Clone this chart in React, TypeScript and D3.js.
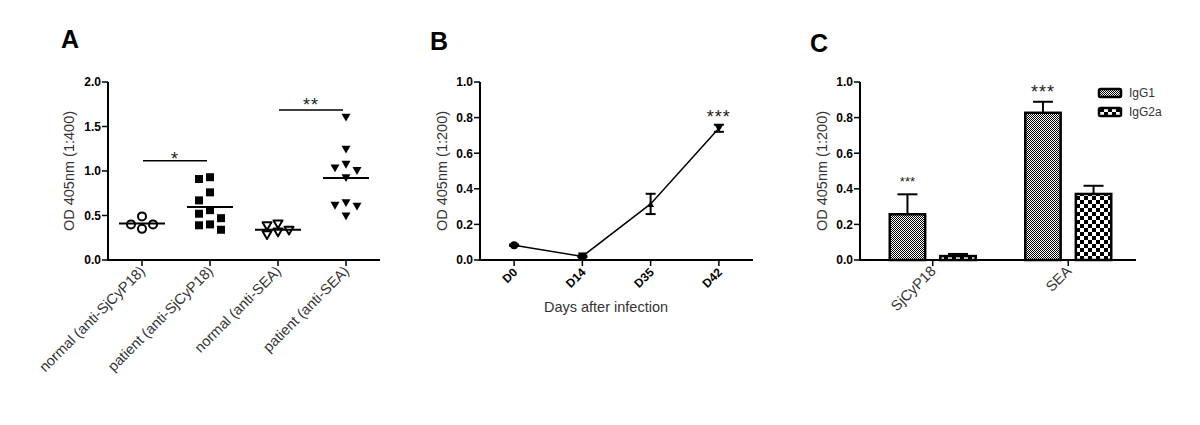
import React from 'react';
import * as d3 from 'd3';

// ---------- Panel A data ----------
const groupsA = ['normal (anti-SjCyP18)', 'patient (anti-SjCyP18)', 'normal (anti-SEA)', 'patient (anti-SEA)'];
const normalSjCyP18 = [0.49, 0.40, 0.40, 0.35];
const patientSjCyP18 = [0.93, 0.91, 0.76, 0.67, 0.56, 0.52, 0.47, 0.40, 0.39, 0.34];
const normalSEA = [0.40, 0.38, 0.33, 0.31, 0.28];
const patientSEA = [1.60, 1.24, 1.07, 1.03, 1.00, 0.92, 0.64, 0.61, 0.60, 0.49];
const sigA = [
  { from: 0, to: 1, value: 1.115, label: '*' },
  { from: 2, to: 3, value: 1.685, label: '**' },
];

// ---------- Panel B data ----------
const days = ['D0', 'D14', 'D35', 'D42'];
const odMean = [0.083, 0.02, 0.315, 0.74];
const odErr = [0.004, 0.004, 0.057, 0.02];

// ---------- Panel C data ----------
const antigens = ['SjCyP18', 'SEA'];
const isotypes = ['IgG1', 'IgG2a'];
const igg1Mean = [0.257, 0.827];
const igg1Err = [0.112, 0.062];
const igg2aMean = [0.022, 0.371];
const igg2aErr = [0.012, 0.046];
const starsC = ['***', '***'];

const FONT = '"Liberation Sans", Arial, Helvetica, sans-serif';
const TOP = 82;
const BOTTOM = 260;

function swarm(values: number[], y: (v: number) => number, step: number, h: number): number[] {
  const order = values.map((_, i) => i).sort((a, b) => values[b] - values[a]);
  const placed: { slot: number; y: number }[] = [];
  const out = new Array(values.length).fill(0);
  for (const i of order) {
    const yy = y(values[i]);
    let best = 0;
    let bestD = -1;
    for (const s of [0, -1, 1]) {
      const ds = placed.filter((p) => p.slot === s).map((p) => Math.abs(p.y - yy));
      const m = ds.length ? Math.min(...ds) : Infinity;
      if (m >= h) { best = s; break; }
      if (m > bestD) { bestD = m; best = s; }
    }
    placed.push({ slot: best, y: yy });
    out[i] = best * step;
  }
  return out;
}

function triDown(x: number, y: number, w: number) {
  const h = w * 0.87;
  return `M${x - w / 2},${y - h / 2}L${x + w / 2},${y - h / 2}L${x},${y + h / 2}Z`;
}
function triUp(x: number, y: number, w: number) {
  const h = w * 0.87;
  return `M${x - w / 2},${y + h / 2}L${x + w / 2},${y + h / 2}L${x},${y - h / 2}Z`;
}

function YAxis({ x, scale, ticks, title, titleX }: { x: number; scale: d3.ScaleLinear<number, number>; ticks: number[]; title: string; titleX: number }) {
  const [r0, r1] = scale.range();
  return (
    <g>
      <line x1={x} x2={x} y1={r0 + 1} y2={r1} stroke="#000" strokeWidth={2} />
      {ticks.map((t) => (
        <g key={t}>
          <line x1={x - 6} x2={x} y1={scale(t)} y2={scale(t)} stroke="#000" strokeWidth={1.5} />
          <text x={x - 7} y={scale(t)} dy="0.36em" textAnchor="end" fontFamily={FONT} fontWeight="bold" fontSize={12} fill="#000">
            {d3.format('.1f')(t)}
          </text>
        </g>
      ))}
      <text transform={`translate(${titleX},${(r0 + r1) / 2}) rotate(-90)`} textAnchor="middle" fontFamily={FONT} fontSize={14.5} fill="#333">
        {title}
      </text>
    </g>
  );
}

function PanelA() {
  const x = d3.scaleBand<string>().domain(groupsA).range([108, 380]);
  const y = d3.scaleLinear().domain([0, 2]).range([BOTTOM, TOP]);
  const cx = (g: string) => (x(g) as number) + x.bandwidth() / 2;
  const series = [normalSjCyP18, patientSjCyP18, normalSEA, patientSEA];
  const kinds = ['circleOpen', 'square', 'triOpen', 'triFilled'];
  return (
    <g>
      <text x={61} y={48} fontFamily={FONT} fontWeight="bold" fontSize={25}>A</text>
      <YAxis x={108} scale={y} ticks={y.ticks(4)} title="OD 405nm (1:400)" titleX={74} />
      <line x1={107} x2={380} y1={BOTTOM} y2={BOTTOM} stroke="#000" strokeWidth={2} />
      {groupsA.map((g) => (
        <g key={g}>
          <line x1={cx(g)} x2={cx(g)} y1={BOTTOM} y2={BOTTOM + 6} stroke="#000" strokeWidth={1.5} />
          <text transform={`translate(${cx(g) + 4},${BOTTOM + 12}) rotate(-45)`} textAnchor="end" fontFamily={FONT} fontSize={14.5} fill="#333">
            {g}
          </text>
        </g>
      ))}
      {series.map((vals, gi) => {
        const g = groupsA[gi];
        const offs = swarm(vals, y, 11, 10);
        const mean = d3.mean(vals) as number;
        return (
          <g key={g}>
            {vals.map((v, i) => {
              const px = cx(g) + offs[i];
              const py = y(v);
              const k = kinds[gi];
              if (k === 'circleOpen') return <circle key={i} cx={px} cy={py} r={4} fill="#fff" stroke="#000" strokeWidth={2} />;
              if (k === 'square') return <rect key={i} x={px - 4} y={py - 4} width={8} height={8} fill="#000" />;
              if (k === 'triOpen') return <path key={i} d={triDown(px, py, 9)} fill="#fff" stroke="#000" strokeWidth={2} strokeLinejoin="round" />;
              return <path key={i} d={triDown(px, py, 9)} fill="#000" />;
            })}
            <line x1={cx(g) - 23} x2={cx(g) + 23} y1={y(mean)} y2={y(mean)} stroke="#000" strokeWidth={2} />
          </g>
        );
      })}
      {sigA.map((s, i) => {
        const x1 = cx(groupsA[s.from]) + 1;
        const x2 = cx(groupsA[s.to]) - 3;
        const yy = y(s.value);
        return (
          <g key={i}>
            <line x1={x1} x2={x2} y1={yy} y2={yy} stroke="#000" strokeWidth={1.5} />
            <text x={(x1 + x2) / 2} y={yy + (s.label.length === 1 ? 4 : 0.5)} textAnchor="middle" fontFamily={FONT} fontSize={18} letterSpacing={1} fill="#222">
              {s.label}
            </text>
          </g>
        );
      })}
    </g>
  );
}

function PanelB() {
  const x = d3.scaleBand<string>().domain(days).range([480, 753]);
  const y = d3.scaleLinear().domain([0, 1]).range([BOTTOM, TOP]);
  const cx = (d: string) => (x(d) as number) + x.bandwidth() / 2;
  const line = d3.line<number>().x((_, i) => cx(days[i])).y((v) => y(v));
  return (
    <g>
      <text x={430} y={50} fontFamily={FONT} fontWeight="bold" fontSize={25}>B</text>
      <YAxis x={480} scale={y} ticks={y.ticks(5)} title="OD 405nm (1:200)" titleX={447} />
      <line x1={479} x2={753} y1={BOTTOM} y2={BOTTOM} stroke="#000" strokeWidth={2} />
      {days.map((d) => (
        <g key={d}>
          <line x1={cx(d)} x2={cx(d)} y1={BOTTOM} y2={BOTTOM + 6} stroke="#000" strokeWidth={1.5} />
          <text transform={`translate(${cx(d) + 4},${BOTTOM + 13}) rotate(-45)`} textAnchor="end" fontFamily={FONT} fontWeight="bold" fontSize={12} fill="#000">
            {d}
          </text>
        </g>
      ))}
      <text x={606} y={312} textAnchor="middle" fontFamily={FONT} fontSize={14.5} fill="#333">Days after infection</text>
      <path d={line(odMean) as string} fill="none" stroke="#000" strokeWidth={1.5} />
      {odMean.map((m, i) => {
        const px = cx(days[i]);
        const top = y(m + odErr[i]);
        const bot = y(m - odErr[i]);
        return (
          <g key={i}>
            <line x1={px} x2={px} y1={top} y2={bot} stroke="#000" strokeWidth={2} />
            <line x1={px - 5} x2={px + 5} y1={top} y2={top} stroke="#000" strokeWidth={2} />
            <line x1={px - 5} x2={px + 5} y1={bot} y2={bot} stroke="#000" strokeWidth={2} />
            {i === 0 && <circle cx={px} cy={y(m)} r={4} fill="#000" />}
            {i === 1 && <rect x={px - 4} y={y(m) - 4} width={8} height={8} fill="#000" />}
            {i === 2 && <path d={triUp(px, y(m), 7)} fill="#000" />}
            {i === 3 && <path d={triDown(px, y(m), 9)} fill="#000" />}
          </g>
        );
      })}
      <text x={cx('D42')} y={123} textAnchor="middle" fontFamily={FONT} fontSize={18} letterSpacing={1} fill="#222">***</text>
    </g>
  );
}

function PanelC() {
  const x0 = d3.scaleBand<string>().domain(antigens).range([865, 1136]);
  const x1 = d3.scaleBand<string>().domain(isotypes).range([-43, 43]).paddingInner(0.3);
  const y = d3.scaleLinear().domain([0, 1]).range([BOTTOM, TOP]);
  const cx = (a: string) => (x0(a) as number) + x0.bandwidth() / 2;
  const means = [igg1Mean, igg2aMean];
  const errs = [igg1Err, igg2aErr];
  const fills = ['url(#patIgG1)', 'url(#patIgG2a)'];
  return (
    <g>
      <defs>
        <pattern id="patIgG1" width={2} height={2} patternUnits="userSpaceOnUse">
          <rect width={2} height={2} fill="#fff" />
          <rect x={0} y={0} width={1} height={1} fill="#000" />
          <rect x={1} y={1} width={1} height={1} fill="#000" />
        </pattern>
        <pattern id="patIgG2a" width={8} height={8} patternUnits="userSpaceOnUse">
          <rect width={8} height={8} fill="#fff" />
          <rect x={0} y={0} width={4} height={4} fill="#000" />
          <rect x={4} y={4} width={4} height={4} fill="#000" />
        </pattern>
      </defs>
      <text x={810} y={52} fontFamily={FONT} fontWeight="bold" fontSize={25}>C</text>
      <YAxis x={860} scale={y} ticks={y.ticks(5)} title="OD 405nm (1:200)" titleX={827} />
      {antigens.map((a, ai) => (
        <g key={a}>
          {isotypes.map((iso, ii) => {
            const bx = cx(a) + (x1(iso) as number);
            const bw = x1.bandwidth();
            const m = means[ii][ai];
            const e = errs[ii][ai];
            const mid = bx + bw / 2;
            return (
              <g key={iso}>
                <line x1={mid} x2={mid} y1={y(m)} y2={y(m + e)} stroke="#000" strokeWidth={2} />
                <line x1={mid - 10} x2={mid + 10} y1={y(m + e)} y2={y(m + e)} stroke="#000" strokeWidth={2} />
                <rect x={bx} y={y(m)} width={bw} height={BOTTOM - y(m)} fill={fills[ii]} stroke="#000" strokeWidth={2.5} />
              </g>
            );
          })}
          <text
            x={cx(a) + (x1('IgG1') as number) + x1.bandwidth() / 2}
            y={ai === 0 ? 186 : 98}
            textAnchor="middle"
            fontFamily={FONT}
            fontSize={ai === 0 ? 13 : 18}
            letterSpacing={ai === 0 ? 0 : 1}
            fill="#222"
          >
            {starsC[ai]}
          </text>
          <line x1={cx(a)} x2={cx(a)} y1={BOTTOM} y2={BOTTOM + 6} stroke="#000" strokeWidth={1.5} />
          <text transform={`translate(${cx(a) + 4},${BOTTOM + 12}) rotate(-45)`} textAnchor="end" fontFamily={FONT} fontSize={14.5} fill="#333">
            {a}
          </text>
        </g>
      ))}
      <line x1={859} x2={1136} y1={BOTTOM} y2={BOTTOM} stroke="#000" strokeWidth={2} />
      {isotypes.map((iso, ii) => (
        <g key={iso}>
          <rect x={1099} y={89 + ii * 19} width={22} height={8} rx={1.5} fill={fills[ii]} stroke="#000" strokeWidth={2.5} />
          <text x={1129} y={97 + ii * 19} fontFamily={FONT} fontSize={12} fill="#333">{iso}</text>
        </g>
      ))}
    </g>
  );
}

export default function App() {
  return (
    <svg width={1200} height={425} style={{ position: 'absolute', left: 0, top: 0, background: '#fff' }}>
      <rect width={1200} height={425} fill="#fff" />
      <PanelA />
      <PanelB />
      <PanelC />
    </svg>
  );
}
